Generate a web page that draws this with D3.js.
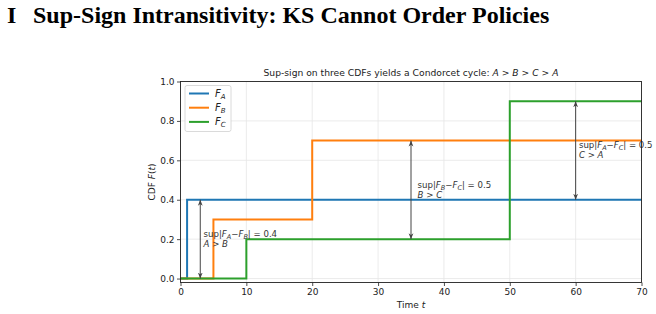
<!DOCTYPE html>
<html>
<head>
<meta charset="utf-8">
<script src="https://cdn.jsdelivr.net/npm/d3@7"></script>
<style>
  body { margin: 0; background: #fff; }
  svg text { font-family: "DejaVu Sans", sans-serif; }
</style>
</head>
<body>
<div id="chart-container"></div>
<script>
// -------------------- DATA --------------------
const seriesNames = ["A", "B", "C"];
// step points (t, value) with "post" stepping
const stepsA = [[0, 0], [1, 0.4], [70, 0.4]];
const stepsB = [[0, 0], [5, 0.3], [20, 0.7], [70, 0.7]];
const stepsC = [[0, 0], [10, 0.2], [50, 0.9], [70, 0.9]];
const colors = ["#1f77b4", "#ff7f0e", "#2ca02c"];

const xTicks = [0, 10, 20, 30, 40, 50, 60, 70];
const yTicks = [0.0, 0.2, 0.4, 0.6, 0.8, 1.0];

// annotations: arrow at t from lo to hi, label
const arrows = [
  { t: 3, lo: 0.0, hi: 0.4, textT: 3.5, pair: ["A", "B"], val: "0.4", win: "A", lose: "B" },
  { t: 35, lo: 0.2, hi: 0.7, textT: 36, pair: ["B", "C"], val: "0.5", win: "B", lose: "C" },
  { t: 60, lo: 0.4, hi: 0.9, textT: 60.5, pair: ["A", "C"], val: "0.5", win: "C", lose: "A" }
];

// -------------------- LAYOUT --------------------
const W = 656, H = 314;
const margin = { top: 81.5, right: 14.5, bottom: 31.5, left: 180.5 };
const width = W - margin.left - margin.right;
const height = H - margin.top - margin.bottom;

const svgRoot = d3.select("#chart-container")
  .append("svg")
  .attr("width", W)
  .attr("height", H);

// section heading
const head = svgRoot.append("g")
  .attr("font-weight", "bold").attr("font-size", 24).attr("fill", "#000");
head.append("text").attr("x", 7).attr("y", 23).style("font-family", "'Liberation Serif', serif").text("I");
head.append("text").attr("x", 33).attr("y", 23).style("font-family", "'Liberation Serif', serif")
  .text("Sup-Sign Intransitivity: KS Cannot Order Policies");

const svg = svgRoot.append("g")
  .attr("transform", `translate(${margin.left},${margin.top})`);

const x = d3.scaleLinear().domain([0, 70]).range([0, width]);
const y = d3.scaleLinear().domain([-0.02, 1.0]).range([height, 0]);

// grid
svg.append("g").selectAll("line").data(xTicks).join("line")
  .attr("x1", d => x(d)).attr("x2", d => x(d))
  .attr("y1", 0).attr("y2", height)
  .attr("stroke", "#e6e6e6").attr("stroke-width", 0.8);
svg.append("g").selectAll("line").data(yTicks).join("line")
  .attr("x1", 0).attr("x2", width)
  .attr("y1", d => y(d)).attr("y2", d => y(d))
  .attr("stroke", "#e6e6e6").attr("stroke-width", 0.8);

// step lines
const line = d3.line().x(d => x(d[0])).y(d => y(d[1])).curve(d3.curveStepAfter);
[stepsA, stepsB, stepsC].forEach((s, i) => {
  svg.append("path")
    .datum(s)
    .attr("fill", "none")
    .attr("stroke", colors[i])
    .attr("stroke-width", 2)
    .attr("d", line);
});

// arrows
const defs = svgRoot.append("defs");
defs.append("marker")
  .attr("id", "ah")
  .attr("viewBox", "0 0 10 10")
  .attr("refX", 10).attr("refY", 5)
  .attr("markerWidth", 6).attr("markerHeight", 6)
  .attr("orient", "auto-start-reverse")
  .append("path")
  .attr("d", "M0,1 L10,5 L0,9 L3,5 Z")
  .attr("fill", "#444");

function subText(sel, parts) {
  parts.forEach(p => {
    const ts = sel.append("tspan").text(p.t);
    if (p.i) ts.attr("font-style", "italic");
    if (p.sub) ts.attr("font-size", 6.5).attr("dy", 2).attr("font-style", "italic");
    if (p.up) ts.attr("dy", -2);
  });
}

arrows.forEach(a => {
  svg.append("line")
    .attr("x1", x(a.t)).attr("x2", x(a.t))
    .attr("y1", y(a.lo)).attr("y2", y(a.hi))
    .attr("stroke", "#444").attr("stroke-width", 1)
    .attr("marker-start", "url(#ah)")
    .attr("marker-end", "url(#ah)");

  const mid = (a.lo + a.hi) / 2;
  const g = svg.append("text")
    .attr("x", x(a.textT)).attr("y", y(mid) - 2)
    .attr("font-size", 8.6).attr("fill", "#333");
  subText(g, [
    { t: "sup|" },
    { t: "F", i: true }, { t: a.pair[0], sub: true },
    { t: "\u2212", up: true }, { t: "F", i: true }, { t: a.pair[1], sub: true },
    { t: "| = " + a.val, up: true }
  ]);
  const g2 = svg.append("text")
    .attr("x", x(a.textT)).attr("y", y(mid) + 8)
    .attr("font-size", 8.6).attr("fill", "#333");
  g2.append("tspan").attr("font-style", "italic").text(a.win);
  g2.append("tspan").text(" > ");
  g2.append("tspan").attr("font-style", "italic").text(a.lose);
});

// axes
const xAxis = svg.append("g")
  .attr("transform", `translate(0,${height})`)
  .call(d3.axisBottom(x).tickValues(xTicks).tickSize(3.5).tickPadding(2.5));
const yAxis = svg.append("g")
  .call(d3.axisLeft(y).tickValues(yTicks).tickFormat(d3.format(".1f")).tickSize(3.5).tickPadding(2.5));
[xAxis, yAxis].forEach(ax => {
  ax.select(".domain").remove();
  ax.selectAll("text").attr("font-size", 9).attr("fill", "#222").style("font-family", "DejaVu Sans");
  ax.selectAll("line").attr("stroke", "#222").attr("stroke-width", 0.8);
});

// frame
svg.append("rect")
  .attr("x", 0).attr("y", 0).attr("width", width).attr("height", height)
  .attr("fill", "none").attr("stroke", "#222").attr("stroke-width", 0.9);

// axis labels
const xl = svg.append("text")
  .attr("x", width / 2).attr("y", height + 25)
  .attr("text-anchor", "middle").attr("font-size", 9).attr("fill", "#222");
xl.append("tspan").text("Time ");
xl.append("tspan").attr("font-style", "italic").text("t");

const yl = svg.append("text")
  .attr("transform", `translate(${-26},${height / 2}) rotate(-90)`)
  .attr("text-anchor", "middle").attr("font-size", 9).attr("fill", "#222");
yl.append("tspan").text("CDF ");
yl.append("tspan").attr("font-style", "italic").text("F");
yl.append("tspan").text("(");
yl.append("tspan").attr("font-style", "italic").text("t");
yl.append("tspan").text(")");

// title
const tt = svg.append("text")
  .attr("x", width / 2).attr("y", -6)
  .attr("text-anchor", "middle").attr("font-size", 9.2).attr("fill", "#222");
tt.append("tspan").text("Sup-sign on three CDFs yields a Condorcet cycle: ");
["A", " > ", "B", " > ", "C", " > ", "A"].forEach((s, i) => {
  const ts = tt.append("tspan").text(s);
  if (i % 2 === 0) ts.attr("font-style", "italic");
});

// legend
const lg = svg.append("g").attr("transform", "translate(4.5,4)");
lg.append("rect")
  .attr("width", 46).attr("height", 46).attr("rx", 2)
  .attr("fill", "#fff").attr("fill-opacity", 0.85)
  .attr("stroke", "#d0d0d0").attr("stroke-width", 0.8);
seriesNames.forEach((n, i) => {
  const yy = 8 + i * 14.2;
  lg.append("line")
    .attr("x1", 4).attr("x2", 24).attr("y1", yy).attr("y2", yy)
    .attr("stroke", colors[i]).attr("stroke-width", 2);
  const t = lg.append("text").attr("x", 30).attr("y", yy + 3.5).attr("font-size", 10).attr("fill", "#222");
  t.append("tspan").attr("font-style", "italic").text("F");
  t.append("tspan").attr("font-style", "italic").attr("font-size", 7).attr("dy", 2).text(n);
});
</script>
</body>
</html>
